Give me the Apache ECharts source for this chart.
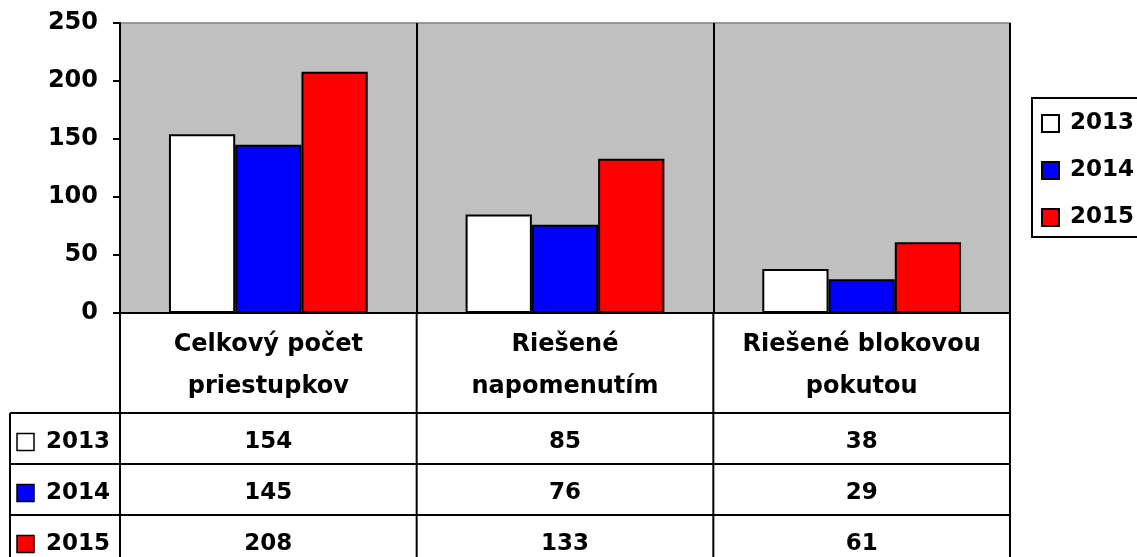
<!DOCTYPE html>
<html>
<head>
<meta charset="UTF-8">
<title>Priestupky 2013-2015</title>
<script src="https://cdn.jsdelivr.net/npm/echarts@6/dist/echarts.min.js"></script>
<style>
html, body { margin: 0; padding: 0; background: #fff; }
#main { width: 1137px; height: 557px; }
</style>
</head>
<body>
<div id="main"></div>
<script>
// data
var categories = ['Celkový počet\npriestupkov', 'Riešené\nnapomenutím', 'Riešené blokovou\npokutou'];
var years = ['2013', '2014', '2015'];
var values2013 = [154, 85, 38];
var values2014 = [145, 76, 29];
var values2015 = [208, 133, 61];
var yTicks = [0, 50, 100, 150, 200, 250];
var colors = ['#FFFFFF', '#0000FF', '#FF0000'];

var FONT = 'DejaVu Sans';
var allValues = [values2013, values2014, values2015];

var chart = echarts.init(document.getElementById('main'), null, { renderer: 'canvas' });

var series = [];
for (var i = 0; i < years.length; i++) {
	series.push({
		name: years[i],
		type: 'bar',
		data: allValues[i],
		barGap: '0%',
		barCategoryGap: '33%',
		itemStyle: { color: colors[i], borderColor: '#000', borderWidth: 2 },
		emphasis: { disabled: true }
	});
}

var option = {
	animation: false,
	textStyle: { fontFamily: FONT },
	grid: {
		left: 120, right: 127, top: 23, bottom: 244,
		show: true,
		backgroundColor: '#C0C0C0',
		borderColor: '#808080',
		borderWidth: 1.5
	},
	legend: {
		orient: 'vertical',
		left: 1032,
		top: 98,
		padding: [14, 30, 8, 9],
		itemWidth: 17,
		itemHeight: 17,
		itemGap: 24,
		icon: 'rect',
		borderColor: '#000',
		borderWidth: 2,
		backgroundColor: '#fff',
		data: years,
		textStyle: { fontFamily: FONT, fontSize: 23, fontWeight: 'bold', color: '#000', padding: [0, 0, 0, 6] }
	},
	xAxis: {
		type: 'category',
		data: categories,
		axisLine: { lineStyle: { color: '#000', width: 2 } },
		axisTick: { show: false },
		splitLine: { show: true, lineStyle: { color: '#000', width: 2 } },
		axisLabel: {
			interval: 0,
			margin: 11,
			fontFamily: FONT,
			fontSize: 24,
			fontWeight: 'bold',
			lineHeight: 42,
			color: '#000'
		}
	},
	yAxis: {
		type: 'value',
		min: yTicks[0],
		max: yTicks[yTicks.length - 1],
		interval: yTicks[1] - yTicks[0],
		axisLine: { show: true, lineStyle: { color: '#000', width: 2 } },
		axisTick: { show: true, length: 7, lineStyle: { color: '#000', width: 2 } },
		splitLine: { show: false },
		axisLabel: { margin: 22, fontFamily: FONT, fontSize: 24, fontWeight: 'bold', color: '#000' }
	},
	series: series
};

chart.setOption(option);

// data table under the chart
var c0 = chart.convertToPixel({ xAxisIndex: 0 }, 0);
var c1 = chart.convertToPixel({ xAxisIndex: 0 }, 1);
var band = c1 - c0;
var yZero = chart.convertToPixel({ yAxisIndex: 0 }, 0);
var tableTop = yZero + 100;
var rowH = 51;
var leftEdge = 10;
var bottomEdge = 600;
var graphics = [];

function line(x1, y1, x2, y2) {
	graphics.push({
		type: 'line',
		shape: { x1: x1, y1: y1, x2: x2, y2: y2 },
		style: { stroke: '#000', lineWidth: 2 },
		silent: true
	});
}
function text(str, x, y, align) {
	graphics.push({
		type: 'text',
		style: {
			text: str, x: x, y: y,
			fill: '#000',
			font: 'bold 23px "' + FONT + '"',
			align: align, verticalAlign: 'middle',
			textAlign: align, textVerticalAlign: 'middle'
		},
		silent: true
	});
}

var rightEdge = c0 - band / 2 + band * categories.length;
for (var r = 0; r < years.length; r++) {
	line(leftEdge, tableTop + r * rowH, rightEdge, tableTop + r * rowH);
}
line(leftEdge, tableTop, leftEdge, bottomEdge);
for (var k = 0; k <= categories.length; k++) {
	var bx = c0 - band / 2 + band * k;
	line(bx, yZero, bx, bottomEdge);
}

for (var r = 0; r < years.length; r++) {
	var cy = tableTop + r * rowH + rowH / 2 + 4;
	graphics.push({
		type: 'rect',
		shape: { x: 17, y: cy - 9, width: 17, height: 17 },
		style: { fill: colors[r], stroke: '#000', lineWidth: 1.5 },
		silent: true
	});
	text(years[r], 46, cy, 'left');
	for (var k = 0; k < categories.length; k++) {
		var cx = chart.convertToPixel({ xAxisIndex: 0 }, k);
		text(String(allValues[r][k]), cx, cy, 'center');
	}
}

chart.setOption({ graphic: graphics });
</script>
</body>
</html>
